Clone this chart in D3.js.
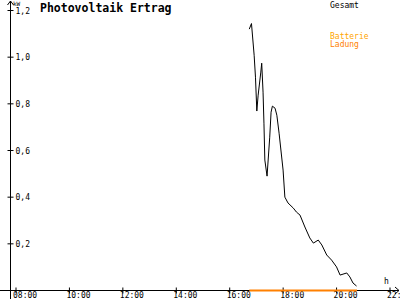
<!DOCTYPE html>
<html>
<head>
<meta charset="utf-8">
<script src="https://cdn.jsdelivr.net/npm/d3@7"></script>
<style>
  body { margin: 0; background: #fff; }
  svg { display: block; }
  text { font-family: "DejaVu Sans Mono", monospace; }
</style>
</head>
<body>
<svg id="canvas" width="400" height="300"></svg>
<script>
// Gesamt (kW) over the afternoon
const times = ["16:45", "16:50", "16:56", "16:59", "17:02", "17:05", "17:11", "17:13", "17:16", "17:18",
  "17:20", "17:25", "17:31", "17:34", "17:37", "17:43", "17:47", "17:52", "18:01", "18:05",
  "18:12", "18:24", "18:31", "18:39", "18:50", "19:01", "19:09", "19:20", "19:28", "19:39",
  "19:50", "20:01", "20:09", "20:24", "20:31", "20:38", "20:46"];
const gesamt = [1.118, 1.142, 1.006, 0.912, 0.767, 0.835, 0.934, 0.972, 0.848, 0.715,
  0.557, 0.488, 0.655, 0.762, 0.788, 0.779, 0.749, 0.672, 0.514, 0.398,
  0.373, 0.351, 0.334, 0.321, 0.270, 0.223, 0.201, 0.214, 0.193, 0.150,
  0.128, 0.099, 0.064, 0.073, 0.056, 0.030, 0.017];

// Batterie Ladung
const ladungTimes = ["16:45", "20:47"];
const ladung = [0, 0];

const xTicks = [8, 10, 12, 14, 16, 18, 20, 22];
const xTickLabels = ["08:00", "10:00", "12:00", "14:00", "16:00", "18:00", "20:00", "22:00"];
const yTicks = [0.2, 0.4, 0.6, 0.8, 1.0, 1.2];
const yTickLabels = ["0,2", "0,4", "0,6", "0,8", "1,0", "1,2"];

const hours = s => { const [h, m] = s.split(":").map(Number); return h + m / 60; };

const svg = d3.select("#canvas");

const x = d3.scaleLinear().domain([8, 22]).range([15.5, 389.5]);
const y = d3.scaleLinear().domain([0, 1.2]).range([290, 10]);
const axisX = 10.5;

// y axis
const yAxis = svg.append("g")
  .attr("transform", `translate(${axisX},0)`)
  .call(d3.axisRight(y).tickValues(yTicks).tickFormat((d, i) => yTickLabels[i]).tickSize(3).tickPadding(2));
yAxis.select(".domain").remove();
yAxis.selectAll(".tick line").attr("x1", -3).attr("x2", 3).attr("stroke", "#000");
yAxis.selectAll(".tick text")
  .attr("font-size", "8px").attr("fill", "#000")
  .attr("dy", "0.4em");
svg.append("line")
  .attr("x1", axisX).attr("x2", axisX).attr("y1", 1).attr("y2", 299)
  .attr("stroke", "#000");
svg.append("path")
  .attr("d", `M${axisX - 3},5 L${axisX},1 L${axisX + 3},5`)
  .attr("fill", "none").attr("stroke", "#000");
svg.append("text")
  .attr("x", 13).attr("y", 6)
  .attr("font-size", "6px")
  .text("kW");

// x axis
const xAxis = svg.append("g")
  .attr("transform", `translate(0,${y(0) + 0.5})`)
  .call(d3.axisBottom(x).tickValues(xTicks).tickFormat((d, i) => xTickLabels[i]).tickSize(3));
xAxis.select(".domain").remove();
xAxis.selectAll(".tick line").attr("y1", -3).attr("y2", 3).attr("stroke", "#000");
xAxis.selectAll(".tick text")
  .attr("font-size", "8px").attr("fill", "#000")
  .attr("text-anchor", "start").attr("x", -3)
  .attr("y", 7.5).attr("dy", null);
svg.append("line")
  .attr("x1", 0).attr("x2", 399).attr("y1", y(0) + 0.5).attr("y2", y(0) + 0.5)
  .attr("stroke", "#000");
svg.append("path")
  .attr("d", `M395,${y(0) - 3} L399,${y(0) + 0.5} L395,${y(0) + 4}`)
  .attr("fill", "none").attr("stroke", "#000");
svg.append("text")
  .attr("x", 384).attr("y", 284)
  .attr("font-size", "8px")
  .text("h");

// series
const line = d3.line()
  .x(d => x(hours(d[0])))
  .y(d => y(d[1]));

svg.append("path")
  .datum(ladungTimes.map((t, i) => [t, ladung[i]]))
  .attr("d", line)
  .attr("transform", "translate(0,0.5)")
  .attr("fill", "none")
  .attr("stroke", "#ff8000")
  .attr("stroke-width", 2);

svg.append("path")
  .datum(times.map((t, i) => [t, gesamt[i]]))
  .attr("d", line)
  .attr("fill", "none")
  .attr("stroke", "#000")
  .attr("stroke-width", 1);

// title + legend
svg.append("text")
  .attr("x", 40).attr("y", 12)
  .attr("font-size", "11.5px")
  .attr("font-weight", "bold")
  .text("Photovoltaik Ertrag");

const legend = svg.append("g").attr("font-size", "8px");
legend.append("text").attr("x", 330).attr("y", 8).attr("fill", "#000").text("Gesamt");
legend.append("text").attr("x", 330).attr("y", 39).attr("fill", "#ffa500").text("Batterie");
legend.append("text").attr("x", 330).attr("y", 47).attr("fill", "#ff8000").text("Ladung");
</script>
</body>
</html>
